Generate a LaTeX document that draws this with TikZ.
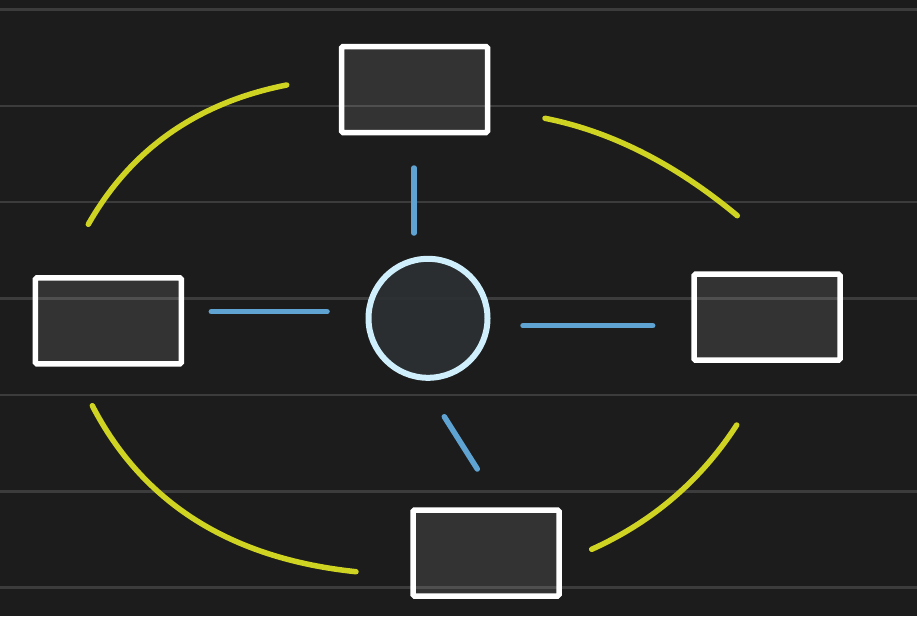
\documentclass[tikz,border=0pt]{standalone}
\usetikzlibrary{calc}
\definecolor{bgc}{HTML}{1C1C1C}
\definecolor{gridc}{HTML}{3C3C3C}
\definecolor{boxfill}{HTML}{353535}
\definecolor{hubfill}{HTML}{2C3034}
\definecolor{hubline}{HTML}{CFEFFD}
\definecolor{spoke}{HTML}{5FA3D3}
\definecolor{ring}{HTML}{CFD322}
\tikzset{
  gridline/.style={draw=gridc, line width=2.5pt},
  satbox/.style={rectangle, draw=white, line width=5.5pt, fill=white, fill opacity=0.1, draw opacity=1,
    minimum width=146pt, minimum height=86pt, inner sep=0pt, rounded corners=1.5pt},
  hubnode/.style={circle, draw=hubline, line width=6pt, fill=hubfill, fill opacity=0.9, draw opacity=1,
    minimum size=119pt, inner sep=0pt},
  spokeline/.style={draw=spoke, line width=5.5pt, line cap=round},
  ringarc/.style={draw=ring, line width=5.5pt, line cap=round},
}
\begin{document}
\begin{tikzpicture}[x=1pt,y=-1pt]
\useasboundingbox (0,0) rectangle (917,616);
\fill[bgc] (0,0) rectangle (917,616);
\foreach \k in {0,...,6}{
  \draw[gridline] (0,{9.5+96.36*\k}) -- (917,{9.5+96.36*\k});
}
% nodes
\node[satbox] (top) at (414.5,89.5) {};
\node[satbox] (left) at (108.4,320.8) {};
\node[satbox] (right) at (767,317.2) {};
\node[satbox] (bottom) at (486,553) {};
\node[hubnode] (hub) at (428,318.3) {};
% spoke end points
\coordinate (t1) at (414,168);
\coordinate (t2) at (414,233);
\coordinate (l1) at (211.3,311.7);
\coordinate (l2) at (327,311.7);
\coordinate (r1) at (523,325.7);
\coordinate (r2) at (652.7,325.7);
\coordinate (b1) at (444.3,416.7);
\coordinate (b2) at (477.3,469);
\draw[spokeline] (t1) -- (t2);
\draw[spokeline] (l1) -- (l2);
\draw[spokeline] (r1) -- (r2);
\draw[spokeline] (b1) -- (b2);
% ring arcs
\coordinate (tlA) at (88.3,224.3);
\coordinate (tlB) at (286.7,85);
\coordinate (trA) at (545,118.3);
\coordinate (trB) at (737.3,215.7);
\coordinate (blA) at (92.3,405.7);
\coordinate (blB) at (356,571.7);
\coordinate (brA) at (591.7,549.3);
\coordinate (brB) at (736.7,425);
\draw[ringarc] (tlA) .. controls (131.1,149.1) and (197.2,102.7) .. (tlB);
\draw[ringarc] (trA) .. controls (611,131.4) and (675.1,163.9) .. (trB);
\draw[ringarc] (blA) .. controls (142.8,503.2) and (230.7,558.6) .. (blB);
\draw[ringarc] (brA) .. controls (652.6,521.8) and (700.9,480.3) .. (brB);
\end{tikzpicture}
\end{document}
